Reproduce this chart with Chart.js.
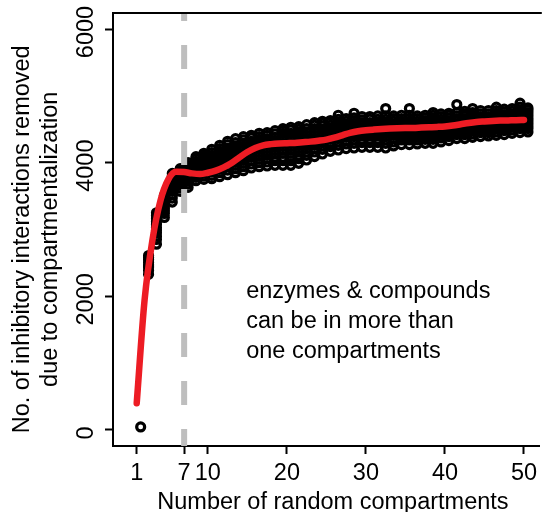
<!DOCTYPE html>
<html>
<head>
<meta charset="utf-8">
<script src="https://cdn.jsdelivr.net/npm/chart.js@4/dist/chart.umd.min.js"></script>
<style>
  html, body { margin: 0; padding: 0; overflow: hidden; background: #fff; width: 545px; height: 512px; }
  #wrap { position: absolute; left: 0; top: 0; width: 547px; height: 512px; }
</style>
</head>
<body>
<div id="wrap"><canvas id="c" width="547" height="512"></canvas></div>
<script>
// ---------------- data ----------------
const compartments = [1,2,3,4,5,6,7,8,9,10,11,12,13,14,15,16,17,18,19,20,21,22,23,24,25,
  26,27,28,29,30,31,32,33,34,35,36,37,38,39,40,41,42,43,44,45,46,47,48,49,50];

// removed interactions for the replicates at each number of compartments
const removedByReplicate = [
  [45],
  [2330, 2390, 2440, 2470, 2510, 2550, 2580, 2610],
  [2780, 2850, 2900, 2950, 2990, 3030, 3080, 3120, 3170, 3210, 3250],
  [3180, 3240, 3280, 3320, 3360, 3400, 3440, 3470, 3510],
  [3410, 3470, 3520, 3570, 3610, 3650, 3690, 3730, 3770, 3800, 3840],
  [3570, 3620, 3660, 3700, 3740, 3780, 3810, 3850, 3880, 3910],
  [3630, 3680, 3720, 3760, 3800, 3840, 3880, 3920, 3960, 4000],
  [3730, 3780, 3820, 3860, 3900, 3940, 3980, 4020, 4060, 4090],
  [3750, 3800, 3840, 3880, 3920, 3960, 4000, 4040, 4080, 4110, 4140],
  [3760, 3810, 3860, 3900, 3950, 3990, 4030, 4070, 4110, 4150, 4200],
  [3790, 3850, 3900, 3950, 3990, 4040, 4080, 4120, 4170, 4210, 4260],
  [3820, 3890, 3940, 3990, 4040, 4090, 4130, 4180, 4220, 4270, 4320],
  [3850, 3910, 3960, 4010, 4060, 4110, 4160, 4210, 4250, 4300, 4360],
  [3880, 3940, 3990, 4040, 4090, 4140, 4190, 4240, 4290, 4340, 4390],
  [3920, 3980, 4030, 4080, 4130, 4180, 4230, 4280, 4320, 4370, 4410],
  [3940, 4000, 4050, 4100, 4150, 4200, 4250, 4300, 4350, 4390, 4440],
  [3950, 4010, 4060, 4110, 4160, 4210, 4260, 4310, 4360, 4410, 4450],
  [3960, 4030, 4080, 4130, 4180, 4230, 4280, 4330, 4380, 4430, 4480],
  [3960, 4030, 4080, 4140, 4190, 4240, 4290, 4340, 4390, 4440, 4480, 4510],
  [3960, 4030, 4090, 4140, 4190, 4240, 4290, 4340, 4390, 4440, 4490, 4530],
  [3990, 4060, 4110, 4160, 4210, 4260, 4310, 4360, 4410, 4460, 4500, 4540],
  [4040, 4110, 4160, 4210, 4260, 4310, 4360, 4410, 4460, 4510, 4570],
  [4090, 4160, 4210, 4260, 4310, 4360, 4410, 4460, 4510, 4560, 4600],
  [4130, 4200, 4250, 4300, 4350, 4400, 4450, 4500, 4550, 4590, 4620],
  [4170, 4240, 4300, 4350, 4400, 4440, 4480, 4520, 4560, 4600, 4630],
  [4190, 4260, 4310, 4360, 4410, 4450, 4490, 4530, 4570, 4610, 4650, 4710],
  [4210, 4280, 4330, 4380, 4420, 4460, 4500, 4540, 4580, 4620, 4660],
  [4220, 4290, 4340, 4390, 4430, 4470, 4510, 4550, 4590, 4630, 4670, 4740],
  [4230, 4300, 4350, 4400, 4440, 4480, 4520, 4560, 4600, 4640, 4690],
  [4230, 4300, 4350, 4400, 4440, 4480, 4520, 4560, 4600, 4650, 4690],
  [4230, 4300, 4350, 4400, 4440, 4480, 4520, 4560, 4610, 4650, 4700],
  [4220, 4290, 4340, 4390, 4440, 4480, 4520, 4560, 4610, 4650, 4700, 4810],
  [4250, 4310, 4360, 4410, 4450, 4490, 4530, 4570, 4620, 4660, 4700],
  [4270, 4340, 4380, 4420, 4460, 4500, 4540, 4580, 4620, 4660, 4710],
  [4270, 4340, 4380, 4420, 4460, 4500, 4540, 4580, 4620, 4660, 4710, 4810],
  [4280, 4340, 4380, 4420, 4460, 4500, 4540, 4580, 4620, 4660, 4700],
  [4290, 4350, 4390, 4430, 4470, 4510, 4550, 4590, 4630, 4670, 4710],
  [4290, 4350, 4390, 4430, 4470, 4510, 4550, 4590, 4630, 4670, 4710, 4750],
  [4310, 4370, 4410, 4450, 4490, 4530, 4570, 4610, 4650, 4690, 4730],
  [4330, 4390, 4430, 4470, 4510, 4550, 4590, 4630, 4670, 4710, 4740],
  [4360, 4420, 4460, 4500, 4540, 4580, 4620, 4660, 4700, 4750, 4870],
  [4360, 4420, 4460, 4500, 4540, 4580, 4620, 4660, 4700, 4730, 4770],
  [4380, 4430, 4470, 4510, 4550, 4590, 4630, 4670, 4710, 4750, 4810],
  [4390, 4450, 4490, 4530, 4570, 4610, 4650, 4690, 4730, 4780],
  [4400, 4450, 4490, 4530, 4570, 4610, 4650, 4690, 4730, 4780],
  [4410, 4460, 4500, 4540, 4580, 4620, 4660, 4700, 4740, 4780, 4830],
  [4420, 4480, 4520, 4560, 4600, 4640, 4680, 4720, 4760, 4800],
  [4440, 4490, 4530, 4570, 4610, 4650, 4690, 4730, 4770, 4810],
  [4450, 4510, 4550, 4590, 4630, 4670, 4710, 4750, 4790, 4830, 4890],
  [4460, 4510, 4550, 4590, 4630, 4670, 4710, 4750, 4790, 4820]
];

// smoothed trend (red curve)
const trendValues = [400, 1950, 2850, 3430, 3750, 3865, 3860, 3840, 3830, 3850,
  3880, 3930, 3995, 4080, 4160, 4220, 4260, 4278, 4288, 4292,
  4295, 4305, 4315, 4328, 4345, 4375, 4410, 4445, 4470, 4485,
  4495, 4503, 4510, 4515, 4518, 4520, 4525, 4530, 4535, 4542,
  4555, 4575, 4595, 4610, 4618, 4625, 4630, 4633, 4636, 4640];

const xTickValues = [1, 7, 10, 20, 30, 40, 50];
const yTickValues = [0, 2000, 4000, 6000];
const thresholdCompartments = 7;
const xLimits = [-2, 52];
const yLimits = [-240, 6240];

const xTitle = '  Number of random compartments';
const yTitle = ['No. of inhibitory interactions removed   ', 'due to compartmentalization   '];
const noteLines = ['enzymes & compounds', 'can be in more than', 'one compartments'];

// ---------------- chart ----------------
const FONT = '"Liberation Sans", Arial, Helvetica, sans-serif';
const FS = 23.5;
const replicateXShift = 0.5;

const scatterPoints = [];
compartments.forEach((c, i) => {
  removedByReplicate[i].forEach(v => scatterPoints.push({ x: c + replicateXShift, y: v }));
});
const trendPoints = compartments.map((c, i) => ({ x: c, y: trendValues[i] }));
const thresholdPoints = [{ x: thresholdCompartments, y: yLimits[1] }, { x: thresholdCompartments, y: yLimits[0] }];

const framePlugin = {
  id: 'frame',
  afterDraw(chart) {
    const { ctx, chartArea } = chart;
    ctx.save();
    ctx.strokeStyle = '#000';
    ctx.lineWidth = 2;
    ctx.beginPath();
    ctx.moveTo(chartArea.left - 1, chartArea.top);
    ctx.lineTo(chartArea.right + 2, chartArea.top);
    ctx.stroke();
    // annotation text
    const xs = chart.scales.x, ys = chart.scales.y;
    ctx.fillStyle = '#000';
    ctx.font = FS + 'px ' + FONT;
    ctx.textAlign = 'left';
    ctx.textBaseline = 'alphabetic';
    const left = xs.getPixelForValue(14.85);
    const base = ys.getPixelForValue(1975);
    noteLines.forEach((t, i) => ctx.fillText(t, left, base + i * 30));
    ctx.restore();
  }
};

new Chart(document.getElementById('c'), {
  type: 'scatter',
  data: {
    datasets: [
      {
        label: 'replicates',
        data: scatterPoints,
        showLine: false,
        pointStyle: 'circle',
        pointRadius: 4,
        borderWidth: 3.2,
        pointBorderWidth: 3.2,
        borderColor: '#000',
        pointBorderColor: '#000',
        backgroundColor: 'rgba(0,0,0,0)',
        pointBackgroundColor: 'rgba(0,0,0,0)',
        order: 3
      },
      {
        label: 'threshold',
        data: thresholdPoints,
        showLine: true,
        pointRadius: 0,
        borderColor: '#bebebe',
        borderWidth: 6,
        borderDash: [24, 24],
        borderDashOffset: 16,
        borderCapStyle: 'butt',
        order: 2
      },
      {
        label: 'trend',
        data: trendPoints,
        showLine: true,
        pointRadius: 0,
        borderColor: '#ed1c24',
        borderWidth: 6.5,
        borderCapStyle: 'round',
        borderJoinStyle: 'round',
        cubicInterpolationMode: 'monotone',
        order: 1
      }
    ]
  },
  options: {
    responsive: false,
    animation: false,
    devicePixelRatio: 1,
    events: [],
    layout: { padding: { top: 13, right: 1, left: 0, bottom: 0 } },
    plugins: { legend: { display: false }, tooltip: { enabled: false } },
    scales: {
      x: {
        type: 'linear',
        min: xLimits[0],
        max: xLimits[1],
        afterBuildTicks: s => { s.ticks = xTickValues.map(v => ({ value: v })); },
        afterFit: s => { s.height = 66; s.paddingLeft = 0; s.paddingRight = 0; },
        ticks: {
          autoSkip: false, maxRotation: 0, minRotation: 0, padding: 5,
          color: '#000', font: { family: FONT, size: FS, lineHeight: 1.2 },
          callback: v => String(v)
        },
        grid: { drawOnChartArea: false, drawTicks: true, tickLength: 8, tickWidth: 2, tickColor: '#000' },
        border: { display: true, color: '#000', width: 2 },
        title: {
          display: true, text: xTitle, color: '#000',
          font: { family: FONT, size: FS, lineHeight: 0.8 },
          padding: { top: 0, bottom: 0 }
        }
      },
      y: {
        type: 'linear',
        min: yLimits[0],
        max: yLimits[1],
        afterBuildTicks: s => { s.ticks = yTickValues.map(v => ({ value: v })); },
        afterFit: s => { s.width = 113; s.paddingTop = 0; s.paddingBottom = 0; },
        ticks: {
          minRotation: 90, maxRotation: 90, crossAlign: 'center', padding: -8, labelOffset: 3,
          color: '#000', font: { family: FONT, size: FS },
          callback: v => String(v)
        },
        grid: { drawOnChartArea: false, drawTicks: true, tickLength: 8, tickWidth: 2, tickColor: '#000' },
        border: { display: true, color: '#000', width: 2 },
        title: {
          display: true, text: yTitle, color: '#000',
          font: { family: FONT, size: FS, lineHeight: '28px' },
          padding: { top: 8.4, bottom: 0 }
        }
      }
    }
  },
  plugins: [framePlugin]
});
</script>
</body>
</html>
